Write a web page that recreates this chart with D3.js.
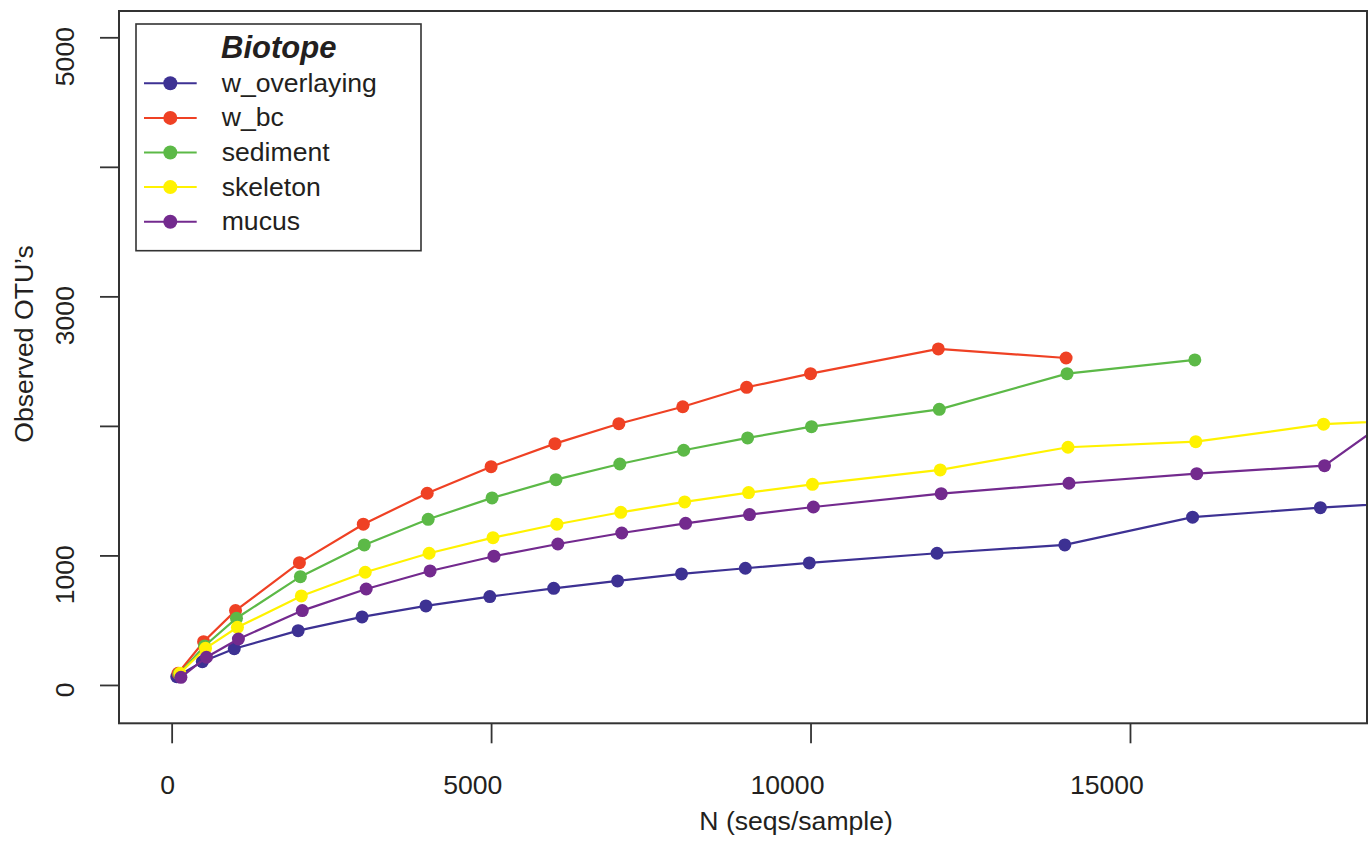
<!DOCTYPE html>
<html>
<head>
<meta charset="utf-8">
<script src="https://cdn.jsdelivr.net/npm/d3@7.9.0/dist/d3.min.js"></script>
<style>
  body { margin: 0; background: #fff; }
  svg text { font-family: "Liberation Sans", Arial, sans-serif; fill: #231f20; }
</style>
</head>
<body>
<svg id="chart" width="1370" height="844"></svg>
<script>
// ========== Data ==========
const biotopes = ['w_overlaying', 'w_bc', 'sediment', 'skeleton', 'mucus'];
const colours = ['#3d3193', '#ef4124', '#5cb947', '#fff200', '#732a8e'];

const xOverlaying = [80, 480, 980, 1980, 2980, 3980, 4980, 5980, 6980, 7980, 8980, 9980, 11980, 13980, 15980, 17980, 19980];
const yOverlaying = [64, 180, 280, 419, 525, 610, 682, 746, 803, 857, 901, 942, 1017, 1081, 1295, 1369, 1427];

const xBc = [100, 500, 1000, 2000, 3000, 4000, 5000, 6000, 7000, 8000, 9000, 10000, 12000, 14000];
const yBc = [90, 334, 574, 944, 1241, 1480, 1685, 1863, 2017, 2148, 2298, 2403, 2594, 2524];

const xSediment = [115, 515, 1015, 2015, 3015, 4015, 5015, 6015, 7015, 8015, 9015, 10015, 12015, 14015, 16015];
const ySediment = [85, 301, 515, 836, 1081, 1279, 1444, 1585, 1706, 1812, 1907, 1994, 2128, 2403, 2509];

const xSkeleton = [130, 530, 1030, 2030, 3030, 4030, 5030, 6030, 7030, 8030, 9030, 10030, 12030, 14030, 16030, 18030, 20030];
const ySkeleton = [90, 283, 445, 687, 870, 1017, 1137, 1241, 1333, 1413, 1485, 1549, 1660, 1835, 1878, 2013, 2062];

const xMucus = [145, 545, 1045, 2045, 3045, 4045, 5045, 6045, 7045, 8045, 9045, 10045, 12045, 14045, 16045, 18045, 20045];
const yMucus = [59, 214, 355, 574, 741, 880, 994, 1088, 1173, 1248, 1315, 1374, 1477, 1557, 1631, 1693, 2395];

const xTicks = [0, 5000, 10000, 15000];
const yTicks = [0, 1000, 2000, 3000, 4000, 5000];
const yTickLabels = ['0', '1000', '', '3000', '', '5000'];

const xs = [xOverlaying, xBc, xSediment, xSkeleton, xMucus];
const ys = [yOverlaying, yBc, ySediment, ySkeleton, yMucus];
const series = biotopes.map((name, i) => ({
  name,
  colour: colours[i],
  points: xs[i].map((v, j) => ({ x: v, y: ys[i][j] })),
}));

// ========== Layout ==========
const plot = { left: 119, right: 1367, top: 11, bottom: 723.3 };
const x = d3.scaleLinear().domain([-824, 18710]).range([plot.left, plot.right]);
const y = d3.scaleLinear().domain([-296, 5203]).range([plot.bottom, plot.top]);

const svg = d3.select('#chart');
const ink = '#333';
const fontSize = 26.6;

svg.append('clipPath').attr('id', 'plot-clip')
  .append('rect')
  .attr('x', plot.left).attr('y', plot.top)
  .attr('width', plot.right - plot.left).attr('height', plot.bottom - plot.top);

// labels were set for a narrower font, so they sit end-anchored past the tick
const labelEnd = (s) => 3 + 2.6 * (s.length - 1);

// === x axis ===
svg.append('g')
  .attr('transform', `translate(0,${plot.bottom})`)
  .call(d3.axisBottom(x).tickValues(xTicks).tickSize(20).tickFormat(d3.format('d')))
  .call((g) => {
    g.select('.domain').remove();
    g.attr('font-family', null).attr('font-size', null);
    g.selectAll('line').attr('stroke', ink).attr('stroke-width', 1.8);
    g.selectAll('text')
      .attr('fill', null)
      .attr('font-size', fontSize)
      .attr('text-anchor', 'end')
      .attr('dy', null)
      .attr('y', 70.7)
      .attr('x', function () { return labelEnd(this.textContent); });
  });

// === y axis ===
svg.append('g')
  .attr('transform', `translate(${plot.left},0)`)
  .call(d3.axisLeft(y).tickValues(yTicks).tickSize(19).tickFormat((d, i) => yTickLabels[i]))
  .call((g) => {
    g.select('.domain').remove();
    g.attr('font-family', null).attr('font-size', null);
    g.selectAll('line').attr('stroke', ink).attr('stroke-width', 1.8);
    g.selectAll('text')
      .attr('fill', null)
      .attr('font-size', fontSize)
      .attr('text-anchor', 'end')
      .attr('x', null).attr('dy', null)
      .attr('transform', function () {
        return `translate(${74 - plot.left},${-labelEnd(this.textContent)}) rotate(-90)`;
      });
  });

// === axis titles ===
svg.append('text')
  .attr('x', 699.3).attr('y', 830)
  .attr('font-size', fontSize)
  .text('N (seqs/sample)');

svg.append('text')
  .attr('transform', 'translate(33.3,442.7) rotate(-90)')
  .attr('font-size', fontSize)
  .text('Observed OTU’s');

// === series ===
const line = d3.line().x((d) => x(d.x)).y((d) => y(d.y));
const layer = svg.append('g').attr('clip-path', 'url(#plot-clip)');

series.forEach((s) => {
  layer.append('path')
    .attr('d', line(s.points))
    .attr('fill', 'none')
    .attr('stroke', s.colour)
    .attr('stroke-width', 2.2);

  layer.selectAll(null)
    .data(s.points)
    .join('circle')
    .attr('cx', (d) => x(d.x))
    .attr('cy', (d) => y(d.y))
    .attr('r', 6.5)
    .attr('fill', s.colour);
});

// === frame ===
svg.append('rect')
  .attr('x', plot.left).attr('y', plot.top)
  .attr('width', plot.right - plot.left).attr('height', plot.bottom - plot.top)
  .attr('fill', 'none')
  .attr('stroke', ink)
  .attr('stroke-width', 2);

// === legend ===
const legend = svg.append('g');
legend.append('rect')
  .attr('x', 136).attr('y', 24)
  .attr('width', 285).attr('height', 226.7)
  .attr('fill', '#fff')
  .attr('stroke', ink)
  .attr('stroke-width', 1.6);

legend.append('text')
  .attr('x', 221).attr('y', 58.3)
  .attr('font-size', 31)
  .attr('font-weight', 'bold')
  .attr('font-style', 'italic')
  .text('Biotope');

series.forEach((s, i) => {
  const rowY = 83.3 + i * 34.6;
  legend.append('line')
    .attr('x1', 144).attr('x2', 196.7)
    .attr('y1', rowY).attr('y2', rowY)
    .attr('stroke', s.colour)
    .attr('stroke-width', 2);
  legend.append('circle')
    .attr('cx', 170.3).attr('cy', rowY)
    .attr('r', 7)
    .attr('fill', s.colour);
  legend.append('text')
    .attr('x', 221.7).attr('y', rowY + 8.5)
    .attr('font-size', fontSize)
    .text(s.name);
});
</script>
</body>
</html>
